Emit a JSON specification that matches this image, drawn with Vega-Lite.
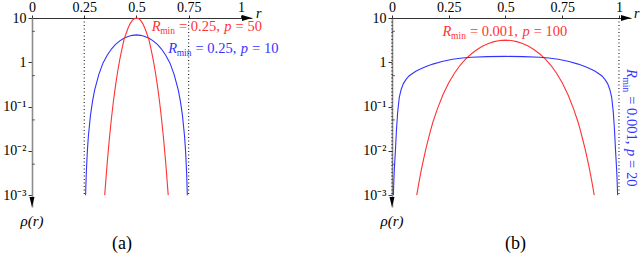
{
  "$schema": "https://vega.github.io/schema/vega-lite/v6.json",
  "background": "white",
  "padding": {"left": 2, "top": 0, "right": 0, "bottom": 0},
  "autosize": {"type": "pad"},
  "spacing": 83,
  "config": {
    "view": {"stroke": null},
    "font": "Liberation Serif",
    "axis": {"labelFont": "Liberation Serif", "titleFont": "Liberation Serif"},
    "text": {"font": "Liberation Serif"},
    "title": {"font": "Liberation Serif", "fontWeight": "normal", "fontSize": 18, "color": "black"}
  },
  "datasets": {
    "curvesA": [
      {"series": "blue", "r": 0.2565, "rho": 0.001}, {"series": "blue", "r": 0.26, "rho": 0.0033}, {"series": "blue", "r": 0.265, "rho": 0.01},
      {"series": "blue", "r": 0.27, "rho": 0.022}, {"series": "blue", "r": 0.28, "rho": 0.064}, {"series": "blue", "r": 0.29, "rho": 0.135},
      {"series": "blue", "r": 0.30, "rho": 0.237}, {"series": "blue", "r": 0.32, "rho": 0.534}, {"series": "blue", "r": 0.34, "rho": 0.97},
      {"series": "blue", "r": 0.36, "rho": 1.44}, {"series": "blue", "r": 0.38, "rho": 1.99}, {"series": "blue", "r": 0.40, "rho": 2.53},
      {"series": "blue", "r": 0.42, "rho": 3.05}, {"series": "blue", "r": 0.44, "rho": 3.5}, {"series": "blue", "r": 0.46, "rho": 3.84},
      {"series": "blue", "r": 0.48, "rho": 4.06}, {"series": "blue", "r": 0.50, "rho": 4.15}, {"series": "blue", "r": 0.52, "rho": 4.06},
      {"series": "blue", "r": 0.54, "rho": 3.84}, {"series": "blue", "r": 0.56, "rho": 3.5}, {"series": "blue", "r": 0.58, "rho": 3.05},
      {"series": "blue", "r": 0.60, "rho": 2.53}, {"series": "blue", "r": 0.62, "rho": 1.99}, {"series": "blue", "r": 0.64, "rho": 1.44},
      {"series": "blue", "r": 0.66, "rho": 0.97}, {"series": "blue", "r": 0.68, "rho": 0.534}, {"series": "blue", "r": 0.70, "rho": 0.237},
      {"series": "blue", "r": 0.71, "rho": 0.135}, {"series": "blue", "r": 0.72, "rho": 0.064}, {"series": "blue", "r": 0.73, "rho": 0.022},
      {"series": "blue", "r": 0.735, "rho": 0.01}, {"series": "blue", "r": 0.74, "rho": 0.0033}, {"series": "blue", "r": 0.7435, "rho": 0.001},
      {"series": "red", "r": 0.348, "rho": 0.001}, {"series": "red", "r": 0.35, "rho": 0.00133}, {"series": "red", "r": 0.36, "rho": 0.0054},
      {"series": "red", "r": 0.37, "rho": 0.0182}, {"series": "red", "r": 0.38, "rho": 0.053}, {"series": "red", "r": 0.39, "rho": 0.1355},
      {"series": "red", "r": 0.40, "rho": 0.306}, {"series": "red", "r": 0.41, "rho": 0.62}, {"series": "red", "r": 0.42, "rho": 1.15},
      {"series": "red", "r": 0.43, "rho": 1.95}, {"series": "red", "r": 0.44, "rho": 3.2}, {"series": "red", "r": 0.45, "rho": 4.42},
      {"series": "red", "r": 0.46, "rho": 5.95}, {"series": "red", "r": 0.47, "rho": 7.48}, {"series": "red", "r": 0.48, "rho": 8.8},
      {"series": "red", "r": 0.49, "rho": 9.69}, {"series": "red", "r": 0.50, "rho": 10}, {"series": "red", "r": 0.51, "rho": 9.69},
      {"series": "red", "r": 0.52, "rho": 8.8}, {"series": "red", "r": 0.53, "rho": 7.48}, {"series": "red", "r": 0.54, "rho": 5.95},
      {"series": "red", "r": 0.55, "rho": 4.42}, {"series": "red", "r": 0.56, "rho": 3.2}, {"series": "red", "r": 0.57, "rho": 1.95},
      {"series": "red", "r": 0.58, "rho": 1.15}, {"series": "red", "r": 0.59, "rho": 0.62}, {"series": "red", "r": 0.60, "rho": 0.306},
      {"series": "red", "r": 0.61, "rho": 0.1355}, {"series": "red", "r": 0.62, "rho": 0.053}, {"series": "red", "r": 0.63, "rho": 0.0182},
      {"series": "red", "r": 0.64, "rho": 0.0054}, {"series": "red", "r": 0.65, "rho": 0.00133}, {"series": "red", "r": 0.652, "rho": 0.001}
    ],
    "curvesB": [
      {"series": "red", "r": 0.109, "rho": 0.001}, {"series": "red", "r": 0.115, "rho": 0.0015}, {"series": "red", "r": 0.12, "rho": 0.0021},
      {"series": "red", "r": 0.13, "rho": 0.0039}, {"series": "red", "r": 0.14, "rho": 0.0068}, {"series": "red", "r": 0.15, "rho": 0.0115},
      {"series": "red", "r": 0.16, "rho": 0.0183}, {"series": "red", "r": 0.17, "rho": 0.0289}, {"series": "red", "r": 0.18, "rho": 0.0443},
      {"series": "red", "r": 0.20, "rho": 0.089}, {"series": "red", "r": 0.225, "rho": 0.187}, {"series": "red", "r": 0.25, "rho": 0.345},
      {"series": "red", "r": 0.275, "rho": 0.567}, {"series": "red", "r": 0.30, "rho": 0.855}, {"series": "red", "r": 0.325, "rho": 1.19},
      {"series": "red", "r": 0.35, "rho": 1.56}, {"series": "red", "r": 0.375, "rho": 1.95}, {"series": "red", "r": 0.40, "rho": 2.33},
      {"series": "red", "r": 0.425, "rho": 2.67}, {"series": "red", "r": 0.45, "rho": 2.93}, {"series": "red", "r": 0.475, "rho": 3.1},
      {"series": "red", "r": 0.50, "rho": 3.16}, {"series": "red", "r": 0.525, "rho": 3.1}, {"series": "red", "r": 0.55, "rho": 2.93},
      {"series": "red", "r": 0.575, "rho": 2.67}, {"series": "red", "r": 0.60, "rho": 2.33}, {"series": "red", "r": 0.625, "rho": 1.95},
      {"series": "red", "r": 0.65, "rho": 1.56}, {"series": "red", "r": 0.675, "rho": 1.19}, {"series": "red", "r": 0.70, "rho": 0.855},
      {"series": "red", "r": 0.725, "rho": 0.567}, {"series": "red", "r": 0.75, "rho": 0.345}, {"series": "red", "r": 0.775, "rho": 0.187},
      {"series": "red", "r": 0.80, "rho": 0.089}, {"series": "red", "r": 0.82, "rho": 0.0443}, {"series": "red", "r": 0.83, "rho": 0.0289},
      {"series": "red", "r": 0.84, "rho": 0.0183}, {"series": "red", "r": 0.85, "rho": 0.0115}, {"series": "red", "r": 0.86, "rho": 0.0068},
      {"series": "red", "r": 0.87, "rho": 0.0039}, {"series": "red", "r": 0.88, "rho": 0.0021}, {"series": "red", "r": 0.885, "rho": 0.0015},
      {"series": "red", "r": 0.891, "rho": 0.001},
      {"series": "blue", "r": 0.006, "rho": 0.001}, {"series": "blue", "r": 0.008, "rho": 0.002}, {"series": "blue", "r": 0.01, "rho": 0.0035},
      {"series": "blue", "r": 0.0125, "rho": 0.006}, {"series": "blue", "r": 0.015, "rho": 0.01}, {"series": "blue", "r": 0.02, "rho": 0.0316},
      {"series": "blue", "r": 0.025, "rho": 0.075}, {"series": "blue", "r": 0.032, "rho": 0.16}, {"series": "blue", "r": 0.04, "rho": 0.24},
      {"series": "blue", "r": 0.05, "rho": 0.33}, {"series": "blue", "r": 0.062, "rho": 0.41}, {"series": "blue", "r": 0.075, "rho": 0.49},
      {"series": "blue", "r": 0.09, "rho": 0.56}, {"series": "blue", "r": 0.105, "rho": 0.63}, {"series": "blue", "r": 0.12, "rho": 0.69},
      {"series": "blue", "r": 0.15, "rho": 0.8}, {"series": "blue", "r": 0.18, "rho": 0.91}, {"series": "blue", "r": 0.22, "rho": 1.04},
      {"series": "blue", "r": 0.267, "rho": 1.17}, {"series": "blue", "r": 0.31, "rho": 1.25}, {"series": "blue", "r": 0.35, "rho": 1.3},
      {"series": "blue", "r": 0.42, "rho": 1.34}, {"series": "blue", "r": 0.50, "rho": 1.36}, {"series": "blue", "r": 0.58, "rho": 1.34},
      {"series": "blue", "r": 0.65, "rho": 1.3}, {"series": "blue", "r": 0.69, "rho": 1.25}, {"series": "blue", "r": 0.733, "rho": 1.17},
      {"series": "blue", "r": 0.78, "rho": 1.04}, {"series": "blue", "r": 0.82, "rho": 0.91}, {"series": "blue", "r": 0.85, "rho": 0.8},
      {"series": "blue", "r": 0.88, "rho": 0.69}, {"series": "blue", "r": 0.895, "rho": 0.63}, {"series": "blue", "r": 0.91, "rho": 0.56},
      {"series": "blue", "r": 0.925, "rho": 0.49}, {"series": "blue", "r": 0.938, "rho": 0.41}, {"series": "blue", "r": 0.95, "rho": 0.33},
      {"series": "blue", "r": 0.96, "rho": 0.24}, {"series": "blue", "r": 0.968, "rho": 0.16}, {"series": "blue", "r": 0.975, "rho": 0.075},
      {"series": "blue", "r": 0.98, "rho": 0.0316}, {"series": "blue", "r": 0.985, "rho": 0.01}, {"series": "blue", "r": 0.9875, "rho": 0.006},
      {"series": "blue", "r": 0.99, "rho": 0.0035}, {"series": "blue", "r": 0.992, "rho": 0.002}, {"series": "blue", "r": 0.994, "rho": 0.001}
    ],
    "rulesA": [{"r": 0.25, "rho": 10, "rho2": 0.001}, {"r": 0.75, "rho": 10, "rho2": 0.001}],
    "rulesB": [{"r": 0, "rho": 10, "rho2": 0.001}, {"r": 1, "rho": 10, "rho2": 0.001}],
    "arrows": [{"dir": "right", "r": 1.053, "rho": 10}, {"dir": "down", "r": 0, "rho": 0.00054}],
    "minor": [{"r": 0, "rho": 5}, {"r": 0, "rho": 0.5}, {"r": 0, "rho": 0.05}, {"r": 0, "rho": 0.005}],
    "axisNamesA": [{"name": "r", "r": 1.072, "rho": 10}],
    "axisNamesB": [{"name": "r", "r": 1.066, "rho": 10}],
    "rhoName": [{"name": "ρ(r)", "r": 0, "rho": 0.0002}],
    "labelsA": [
      {"series": "red", "r": 0.573, "rho": 5.22, "eq": "= 0.25,", "pv": "= 50"},
      {"series": "blue", "r": 0.652, "rho": 1.65, "eq": "= 0.25,", "pv": "= 10"}
    ],
    "labelB1": [{"r": 0.223, "rho": 3.93, "eq": "= 0.001,", "pv": "= 100"}],
    "labelB2": [{"r": 1.035, "rho": 0.706, "eq": "= 0.001,", "pv": "= 20"}]
  },
  "hconcat": [
    {
      "width": 220,
      "height": 189,
      "title": {"text": "(a)", "orient": "bottom", "offset": 6, "dx": -20, "font": "Liberation Serif"},
      "encoding": {
        "x": {"field": "r", "type": "quantitative",
          "scale": {"domain": [0, 1.053], "nice": false, "zero": false},
          "axis": {"orient": "top", "values": [0, 0.25, 0.5, 0.75, 1], "labelExpr": "toString(datum.value)", "title": null, "grid": false,
            "domainColor": "#333", "tickColor": "#333", "tickSize": 3, "labelFontSize": 14, "labelColor": "black",
            "labelPadding": 1, "labelFont": "Liberation Serif", "labelFlush": false, "labelOverlap": false}},
        "y": {"field": "rho", "type": "quantitative",
          "scale": {"type": "log", "domain": [0.00054, 10], "nice": false},
          "axis": {"orient": "left", "values": [0.001, 0.01, 0.1, 1, 10], "title": null, "grid": false,
            "labelExpr": "datum.value > 5 ? '10' : datum.value > 0.5 ? '1' : datum.value > 0.05 ? '10⁻¹' : datum.value > 0.005 ? '10⁻²' : '10⁻³'",
            "domainColor": "#8c8c8c", "domainWidth": 1.6, "tickColor": "#333", "tickSize": 4, "labelFontSize": 14,
            "labelColor": "black", "labelPadding": 2, "labelFont": "Liberation Serif", "labelFlush": false, "labelOverlap": false}}
      },
      "layer": [
        {"data": {"name": "rulesA"}, "mark": {"type": "rule", "color": "black", "strokeDash": [1, 2.5], "strokeWidth": 1},
         "encoding": {"y2": {"field": "rho2"}}},
        {"data": {"name": "minor"}, "mark": {"type": "tick", "orient": "horizontal", "size": 3, "thickness": 1, "color": "#333", "xOffset": 1.5},
         "encoding": {}},
        {"data": {"name": "curvesA"}, "mark": {"type": "line", "strokeWidth": 1.1, "clip": false},
         "encoding": {"color": {"field": "series", "type": "nominal", "scale": {"domain": ["red", "blue"], "range": ["#ff3333", "#3333ff"]}, "legend": null}}},
        {"data": {"name": "arrows"}, "mark": {"type": "point", "filled": true, "color": "black", "opacity": 1, "size": 100},
         "encoding": {"shape": {"field": "dir", "type": "nominal", "scale": {"domain": ["right", "down"], "range": ["M 0 0 L -2 -0.6 L -2 0.6 Z", "M 0 0 L -0.5 -2 L 0.5 -2 Z"]}, "legend": null}}},
        {"data": {"name": "axisNamesA"}, "mark": {"type": "text", "font": "Liberation Serif", "fontStyle": "italic", "fontSize": 14, "align": "left", "baseline": "alphabetic", "color": "black"},
         "encoding": {"text": {"field": "name"}}},
        {"data": {"name": "rhoName"}, "mark": {"type": "text", "font": "Liberation Serif", "fontStyle": "italic", "fontSize": 15, "align": "center", "baseline": "alphabetic", "color": "black"},
         "encoding": {"text": {"field": "name"}}},
        {"data": {"name": "labelsA"}, "mark": {"type": "text", "font": "Liberation Serif", "fontStyle": "italic", "fontSize": 14.5, "align": "left", "baseline": "alphabetic"},
         "encoding": {"text": {"value": "R"}, "color": {"field": "series", "type": "nominal", "scale": {"domain": ["red", "blue"], "range": ["#ff3333", "#3333ff"]}, "legend": null}}},
        {"data": {"name": "labelsA"}, "mark": {"type": "text", "font": "Liberation Serif", "fontSize": 9.5, "align": "left", "baseline": "alphabetic", "dx": 8.5, "dy": 3.5},
         "encoding": {"text": {"value": "min"}, "color": {"field": "series", "type": "nominal", "legend": null}}},
        {"data": {"name": "labelsA"}, "mark": {"type": "text", "font": "Liberation Serif", "fontSize": 14.5, "align": "left", "baseline": "alphabetic", "dx": 27.3},
         "encoding": {"text": {"field": "eq"}, "color": {"field": "series", "type": "nominal", "legend": null}}},
        {"data": {"name": "labelsA"}, "mark": {"type": "text", "font": "Liberation Serif", "fontStyle": "italic", "fontSize": 14.5, "align": "left", "baseline": "alphabetic", "dx": 72.6},
         "encoding": {"text": {"value": "p"}, "color": {"field": "series", "type": "nominal", "legend": null}}},
        {"data": {"name": "labelsA"}, "mark": {"type": "text", "font": "Liberation Serif", "fontSize": 14.5, "align": "left", "baseline": "alphabetic", "dx": 83.9},
         "encoding": {"text": {"field": "pv"}, "color": {"field": "series", "type": "nominal", "legend": null}}}
      ]
    },
    {
      "width": 239,
      "height": 189,
      "title": {"text": "(b)", "orient": "bottom", "offset": 6, "dx": 4, "font": "Liberation Serif"},
      "encoding": {
        "x": {"field": "r", "type": "quantitative",
          "scale": {"domain": [0, 1.053], "nice": false, "zero": false},
          "axis": {"orient": "top", "values": [0, 0.25, 0.5, 0.75, 1], "labelExpr": "toString(datum.value)", "title": null, "grid": false,
            "domainColor": "#333", "tickColor": "#333", "tickSize": 3, "labelFontSize": 14, "labelColor": "black",
            "labelPadding": 1, "labelFont": "Liberation Serif", "labelFlush": false, "labelOverlap": false}},
        "y": {"field": "rho", "type": "quantitative",
          "scale": {"type": "log", "domain": [0.00054, 10], "nice": false},
          "axis": {"orient": "left", "values": [0.001, 0.01, 0.1, 1, 10], "title": null, "grid": false,
            "labelExpr": "datum.value > 5 ? '10' : datum.value > 0.5 ? '1' : datum.value > 0.05 ? '10⁻¹' : datum.value > 0.005 ? '10⁻²' : '10⁻³'",
            "domainColor": "#8c8c8c", "domainWidth": 1.6, "tickColor": "#333", "tickSize": 4, "labelFontSize": 14,
            "labelColor": "black", "labelPadding": 2, "labelFont": "Liberation Serif", "labelFlush": false, "labelOverlap": false}}
      },
      "layer": [
        {"data": {"name": "rulesB"}, "mark": {"type": "rule", "color": "black", "strokeDash": [1, 2.5], "strokeWidth": 1},
         "encoding": {"y2": {"field": "rho2"}}},
        {"data": {"name": "minor"}, "mark": {"type": "tick", "orient": "horizontal", "size": 3, "thickness": 1, "color": "#333", "xOffset": 1.5},
         "encoding": {}},
        {"data": {"name": "curvesB"}, "mark": {"type": "line", "strokeWidth": 1.1, "clip": false},
         "encoding": {"color": {"field": "series", "type": "nominal", "scale": {"domain": ["red", "blue"], "range": ["#ff3333", "#3333ff"]}, "legend": null}}},
        {"data": {"name": "arrows"}, "mark": {"type": "point", "filled": true, "color": "black", "opacity": 1, "size": 100},
         "encoding": {"shape": {"field": "dir", "type": "nominal", "scale": {"domain": ["right", "down"], "range": ["M 0 0 L -2 -0.6 L -2 0.6 Z", "M 0 0 L -0.5 -2 L 0.5 -2 Z"]}, "legend": null}}},
        {"data": {"name": "axisNamesB"}, "mark": {"type": "text", "font": "Liberation Serif", "fontStyle": "italic", "fontSize": 14, "align": "left", "baseline": "alphabetic", "color": "black"},
         "encoding": {"text": {"field": "name"}}},
        {"data": {"name": "rhoName"}, "mark": {"type": "text", "font": "Liberation Serif", "fontStyle": "italic", "fontSize": 15, "align": "center", "baseline": "alphabetic", "color": "black"},
         "encoding": {"text": {"field": "name"}}},
        {"data": {"name": "labelB1"}, "mark": {"type": "text", "font": "Liberation Serif", "fontStyle": "italic", "fontSize": 14.5, "align": "left", "baseline": "alphabetic", "color": "#ff3333"},
         "encoding": {"text": {"value": "R"}}},
        {"data": {"name": "labelB1"}, "mark": {"type": "text", "font": "Liberation Serif", "fontSize": 9.5, "align": "left", "baseline": "alphabetic", "dx": 8.5, "dy": 3.5, "color": "#ff3333"},
         "encoding": {"text": {"value": "min"}}},
        {"data": {"name": "labelB1"}, "mark": {"type": "text", "font": "Liberation Serif", "fontSize": 14.5, "align": "left", "baseline": "alphabetic", "dx": 27.3, "color": "#ff3333"},
         "encoding": {"text": {"field": "eq"}}},
        {"data": {"name": "labelB1"}, "mark": {"type": "text", "font": "Liberation Serif", "fontStyle": "italic", "fontSize": 14.5, "align": "left", "baseline": "alphabetic", "dx": 79.9, "color": "#ff3333"},
         "encoding": {"text": {"value": "p"}}},
        {"data": {"name": "labelB1"}, "mark": {"type": "text", "font": "Liberation Serif", "fontSize": 14.5, "align": "left", "baseline": "alphabetic", "dx": 91.1, "color": "#ff3333"},
         "encoding": {"text": {"field": "pv"}}},
        {"data": {"name": "labelB2"}, "mark": {"type": "text", "font": "Liberation Serif", "fontStyle": "italic", "fontSize": 14.5, "align": "left", "baseline": "alphabetic", "angle": 90, "color": "#3333ff"},
         "encoding": {"text": {"value": "R"}}},
        {"data": {"name": "labelB2"}, "mark": {"type": "text", "font": "Liberation Serif", "fontSize": 9.5, "align": "left", "baseline": "alphabetic", "angle": 90, "dx": 8.5, "dy": 3.5, "color": "#3333ff"},
         "encoding": {"text": {"value": "min"}}},
        {"data": {"name": "labelB2"}, "mark": {"type": "text", "font": "Liberation Serif", "fontSize": 14.5, "align": "left", "baseline": "alphabetic", "angle": 90, "dx": 27.3, "color": "#3333ff"},
         "encoding": {"text": {"field": "eq"}}},
        {"data": {"name": "labelB2"}, "mark": {"type": "text", "font": "Liberation Serif", "fontStyle": "italic", "fontSize": 14.5, "align": "left", "baseline": "alphabetic", "angle": 90, "dx": 79.9, "color": "#3333ff"},
         "encoding": {"text": {"value": "p"}}},
        {"data": {"name": "labelB2"}, "mark": {"type": "text", "font": "Liberation Serif", "fontSize": 14.5, "align": "left", "baseline": "alphabetic", "angle": 90, "dx": 91.1, "color": "#3333ff"},
         "encoding": {"text": {"field": "pv"}}}
      ]
    }
  ]
}
